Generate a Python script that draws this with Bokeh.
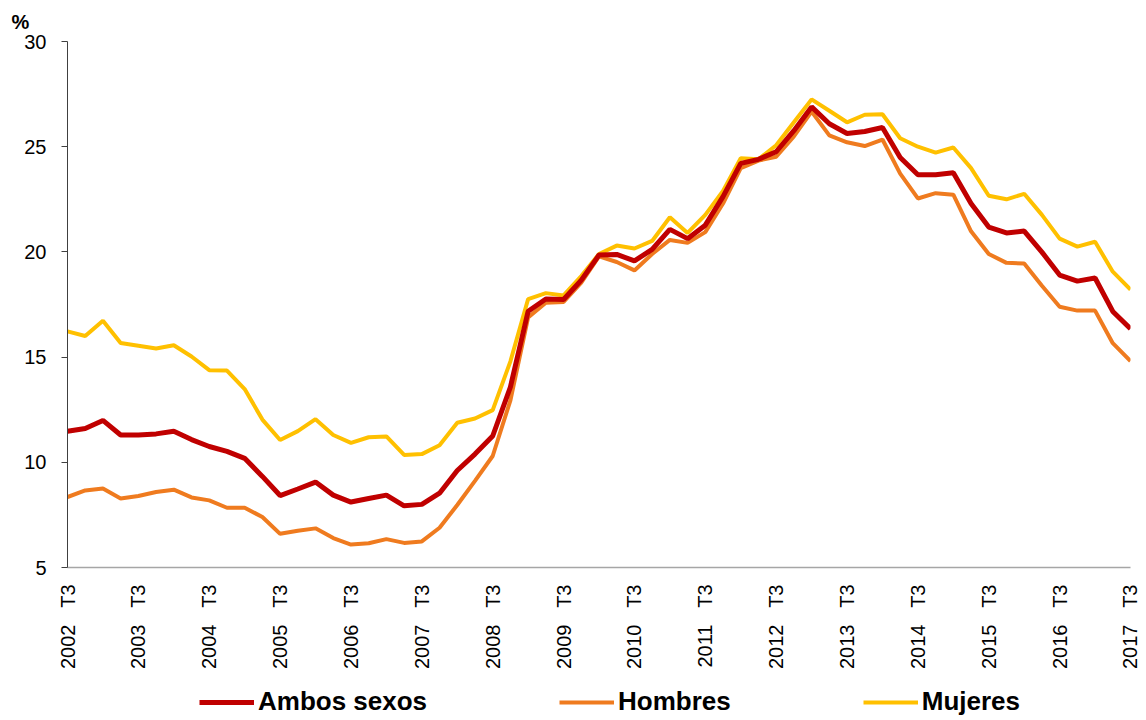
import math
from bokeh.plotting import figure
from bokeh.layouts import column
from bokeh.models import Range1d, FixedTicker, Legend, LegendItem
from bokeh.embed import file_html
from bokeh.resources import INLINE

# Quarterly series, 2002 T3 .. 2017 T3 (61 quarters)
years = list(range(2002, 2018))
tick_labels = [f"{y}\u00a0\u00a0\u00a0T3" for y in years]

ambos = [11.48, 11.61, 11.99, 11.30, 11.30, 11.35, 11.48, 11.08, 10.75, 10.52,
         10.19, 9.33, 8.42, 8.73, 9.06, 8.44, 8.11, 8.28, 8.44, 7.93,
         8.00, 8.53, 9.61, 10.39, 11.25, 13.58, 17.18, 17.76, 17.74, 18.66,
         19.85, 19.88, 19.57, 20.12, 21.07, 20.63, 21.27, 22.63, 24.21, 24.40,
         24.76, 25.76, 26.89, 26.09, 25.63, 25.72, 25.91, 24.49, 23.67, 23.67,
         23.76, 22.30, 21.18, 20.90, 20.99, 19.99, 18.90, 18.61, 18.76, 17.17,
         16.35]
hombres = [8.35, 8.66, 8.75, 8.28, 8.40, 8.59, 8.70, 8.33, 8.19, 7.84,
           7.84, 7.40, 6.60, 6.75, 6.86, 6.40, 6.09, 6.15, 6.35, 6.17,
           6.24, 6.89, 7.97, 9.12, 10.30, 12.94, 16.89, 17.58, 17.62, 18.54,
           19.79, 19.52, 19.12, 19.90, 20.57, 20.43, 20.94, 22.30, 23.98, 24.34,
           24.52, 25.49, 26.67, 25.54, 25.21, 25.03, 25.34, 23.72, 22.54, 22.79,
           22.72, 20.98, 19.90, 19.48, 19.45, 18.39, 17.39, 17.21, 17.21, 15.66,
           14.81]
mujeres = [16.22, 16.00, 16.73, 15.67, 15.54, 15.41, 15.56, 15.03, 14.38, 14.36,
           13.48, 12.03, 11.06, 11.48, 12.05, 11.30, 10.92, 11.19, 11.23, 10.35,
           10.39, 10.81, 11.88, 12.08, 12.48, 14.80, 17.76, 18.04, 17.93, 18.85,
           19.90, 20.30, 20.16, 20.52, 21.65, 20.90, 21.76, 22.90, 24.45, 24.40,
           25.07, 26.16, 27.25, 26.71, 26.16, 26.52, 26.54, 25.40, 25.00, 24.72,
           24.96, 23.98, 22.67, 22.50, 22.76, 21.76, 20.63, 20.25, 20.48, 19.06,
           18.21]
y_ticks = [5, 10, 15, 20, 25, 30]
series_names = ["Ambos sexos", "Hombres", "Mujeres"]
series_colors = ["#C00000", "#EF7B1F", "#FFC000"]

x = list(range(len(ambos)))
tick_pos = list(range(0, len(ambos), 4))

FONT = "Liberation Sans"

p = figure(frame_width=1063, frame_height=526,
           min_border_left=67, min_border_top=41, min_border_right=10,
           min_border_bottom=112,
           x_range=Range1d(0, len(ambos) - 1), y_range=Range1d(5, 30),
           output_backend="svg", toolbar_location=None)
p.outline_line_color = None
p.xgrid.visible = False
p.ygrid.visible = False

p.title.text = "%"
p.title.align = "left"
p.title.offset = -56
p.title.text_font = FONT
p.title.text_font_size = "20px"
p.title.text_font_style = "bold"
p.title.text_color = "black"
p.title.standoff = 17

r_h = p.line(x, hombres, line_color=series_colors[1], line_width=4)
r_m = p.line(x, mujeres, line_color=series_colors[2], line_width=4)
r_a = p.line(x, ambos, line_color=series_colors[0], line_width=5)

xa = p.xaxis[0]
xa.ticker = FixedTicker(ticks=tick_pos)
xa.major_label_overrides = {t: lab for t, lab in zip(tick_pos, tick_labels)}
xa.major_label_orientation = math.pi / 2
xa.major_tick_line_color = None
xa.major_tick_out = 0
xa.major_tick_in = 0
xa.minor_tick_line_color = None
xa.axis_line_color = "#A6A6A6"
xa.axis_line_width = 1.5
xa.major_label_standoff = 17
xa.major_label_text_font = FONT
xa.major_label_text_font_size = "20px"
xa.major_label_text_color = "black"

ya = p.yaxis[0]
ya.ticker = FixedTicker(ticks=y_ticks)
ya.major_tick_out = 6
ya.major_tick_in = 0
ya.minor_tick_line_color = None
ya.axis_line_color = "#404040"
ya.major_tick_line_color = "#404040"
ya.major_label_standoff = 15
ya.major_label_text_font = FONT
ya.major_label_text_font_size = "20px"
ya.major_label_text_color = "black"

# Legend in its own strip below the chart (sample lines kept outside the visible range)
pl = figure(width=1140, height=41, min_border=0, x_axis_type=None, y_axis_type=None,
            x_range=Range1d(0, 1), y_range=Range1d(0, 1),
            output_backend="svg", toolbar_location=None)
pl.outline_line_color = None
pl.xgrid.visible = False
pl.ygrid.visible = False
widths = [5, 4, 4]
leg_r = [pl.line([-3, -2], [-3, -3], line_color=c, line_width=w)
         for c, w in zip(series_colors, widths)]
legend = Legend(items=[LegendItem(label=n, renderers=[r]) for n, r in zip(series_names, leg_r)],
                orientation="horizontal", location=(132, 3),
                glyph_width=55, glyph_height=28, label_standoff=4, spacing=132,
                label_text_font=FONT, label_text_font_style="bold",
                label_text_font_size="26px", label_text_color="black",
                padding=0, margin=0, border_line_color=None,
                background_fill_alpha=0)
pl.add_layout(legend, "center")

layout = column(p, pl, spacing=0)
open("out.html", "w").write(file_html(layout, INLINE))
